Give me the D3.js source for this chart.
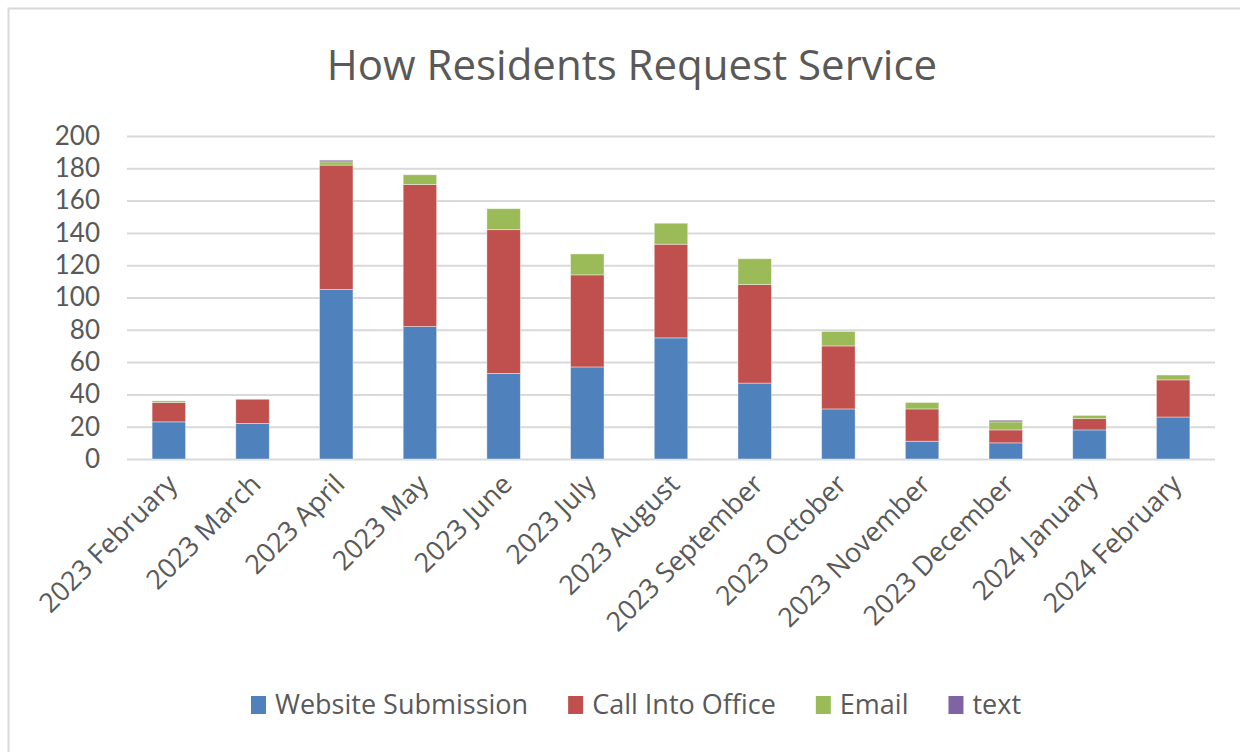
<!DOCTYPE html>
<html>
  <head>
    <meta charset="utf-8">
    <title>How Residents Request Service</title>
    <script src="https://d3js.org/d3.v7.min.js"></script>
    <style>
      body { margin: 0; background: #fff; }
      text { font-family: "Open Sans", sans-serif; fill: #595959; }
    </style>
  </head>
  <body>
    <div id="chart"></div>
    <script>
      // values
      var months = ["2023 February", "2023 March", "2023 April", "2023 May", "2023 June",
                    "2023 July", "2023 August", "2023 September", "2023 October",
                    "2023 November", "2023 December", "2024 January", "2024 February"];
      var website = [23, 22, 105, 82, 53, 57, 75, 47, 31, 11, 10, 18, 26];
      var call    = [12, 15, 77, 88, 89, 57, 58, 61, 39, 20, 8, 7, 23];
      var email   = [1, 0, 2, 6, 13, 13, 13, 16, 9, 4, 5, 2, 3];
      var textMsg = [0, 0, 1, 0, 0, 0, 0, 0, 0, 0, 1, 0, 0];
      var seriesNames = ["Website Submission", "Call Into Office", "Email", "text"];
      var colors = ["#4f81bd", "#c0504d", "#9bbb59", "#8064a2"];
      var yTicks = [0, 20, 40, 60, 80, 100, 120, 140, 160, 180, 200];

      var width = 1240, height = 752;
      var plotLeft = 127, plotRight = 1215, plotTop = 136, plotBottom = 459;

      var svg = d3.select("#chart").append("svg")
                  .attr("width", width)
                  .attr("height", height)

      // chart frame
      svg.append("rect")
         .attr("x", 8.5).attr("y", 8.5)
         .attr("width", 1260).attr("height", 800)
         .attr("fill", "none")
         .attr("stroke", "#d9d9d9")
         .attr("stroke-width", 2)

      svg.append("text")
         .attr("x", 632).attr("y", 80)
         .attr("text-anchor", "middle")
         .style("font-size", "42px")
         .text("How Residents Request Service")

      var table = months.map(function(m, i){
        return {month: m, s0: website[i], s1: call[i], s2: email[i], s3: textMsg[i]};
      });
      var stack = d3.stack().keys(["s0", "s1", "s2", "s3"])(table);

      var x = d3.scaleBand().domain(months).range([plotLeft, plotRight])
                .paddingInner(0.6).paddingOuter(0.3);
      var y = d3.scaleLinear().domain([0, 200]).range([plotBottom, plotTop]);

      // gridlines + y labels
      var yAxis = d3.axisLeft(y).tickValues(yTicks)
                    .tickSize(-(plotRight - plotLeft)).tickPadding(27);
      var gy = svg.append("g")
         .attr("transform", "translate(" + plotLeft + ",0)")
         .call(yAxis);
      gy.select(".domain").remove();
      gy.selectAll(".tick line").attr("stroke", "#d9d9d9").attr("stroke-width", 2);
      // Lato has a shorter line box, so the close-packed labels don't collide
      gy.selectAll(".tick text").style("font-size", "26px").attr("fill", "#595959")
        .style("font-family", "Lato, sans-serif");

      svg.append("g").selectAll("g")
         .data(stack).enter().append("g")
         .attr("fill", function(d, i){ return colors[i]; })
         .selectAll("rect")
         .data(function(d){ return d; })
         .enter().append("rect")
         .attr("x", function(d){ return x(d.data.month); })
         .attr("y", function(d){ return y(d[1]); })
         .attr("width", x.bandwidth())
         .attr("height", function(d){ return y(d[0]) - y(d[1]); })
         .attr("stroke", "#ffffff")
         .attr("stroke-opacity", 0.5)
         .attr("stroke-width", 0.8)

      // x labels, rotated
      var xAxis = d3.axisBottom(x).tickSize(0).tickPadding(0);
      var gx = svg.append("g")
         .attr("transform", "translate(0," + plotBottom + ")")
         .call(xAxis);
      gx.select(".domain").remove();
      gx.selectAll(".tick text")
        .style("font-size", "27px")
        .style("font-family", "'Open Sans', sans-serif")
        .attr("fill", "#595959")
        .attr("text-anchor", "end")
        .attr("dy", 0)
        .attr("transform", "translate(10,27) rotate(-45)");

      // legend
      var legend = svg.append("g");
      var lx = 0;
      seriesNames.forEach(function(name, i){
        var item = legend.append("g").attr("transform", "translate(" + lx + ",0)");
        item.append("rect").attr("x", 0).attr("y", -9).attr("width", 15).attr("height", 18)
            .attr("fill", colors[i]);
        var t = item.append("text").attr("x", 24).attr("y", 9)
            .style("font-size", "27px").text(name);
        lx += 24 + t.node().getComputedTextLength() + 40;
      });
      lx -= 40;
      legend.attr("transform", "translate(" + (636 - lx / 2) + ",705)");
    </script>
  </body>
</html>
